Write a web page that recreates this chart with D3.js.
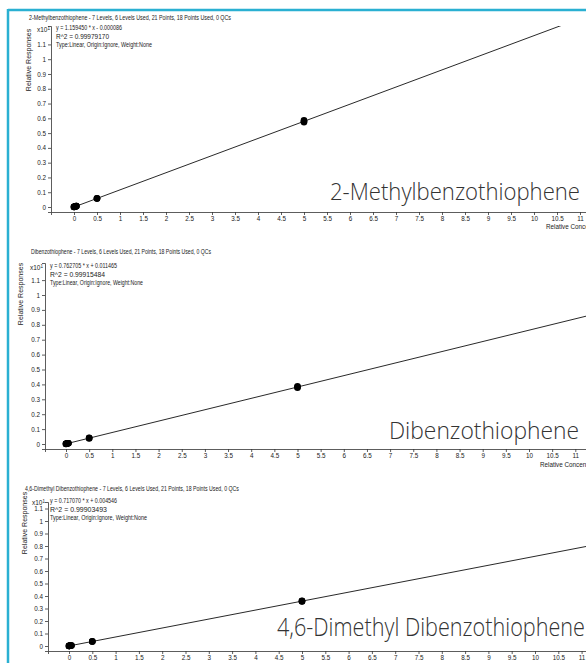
<!DOCTYPE html>
<html><head><meta charset="utf-8">
<script src="https://cdn.jsdelivr.net/npm/d3@7"></script>
<style>
html,body{margin:0;padding:0;background:#fff;}
svg{display:block;}
.small{font-family:"Liberation Sans Narrow","Arial Narrow","Liberation Sans",Arial,sans-serif;fill:#222;}
.big{font-family:"Open Sans","Segoe UI",sans-serif;font-weight:300;fill:#333;}
</style></head>
<body>
<svg id="c" width="586" height="663"></svg>
<script>
// ---- data ----
const compounds = ["2-Methylbenzothiophene", "Dibenzothiophene", "4,6-Dimethyl Dibenzothiophene"];
const headers = [
  "2-Methylbenzothiophene - 7 Levels, 6 Levels Used, 21 Points, 18 Points Used, 0 QCs",
  "Dibenzothiophene - 7 Levels, 6 Levels Used, 21 Points, 18 Points Used, 0 QCs",
  "4,6-Dimethyl Dibenzothiophene - 7 Levels, 6 Levels Used, 21 Points, 18 Points Used, 0 QCs"
];
const equations = ["y = 1.159450 * x - 0.000086", "y = 0.762705 * x + 0.011465", "y = 0.717070 * x + 0.004546"];
const r2Labels = ["R^2 = 0.99979170", "R^2 = 0.99915484", "R^2 = 0.99903493"];
const fitType = "Type:Linear, Origin:Ignore, Weight:None";
const slopes = [1.159450, 0.762705, 0.717070];
const intercepts = [-0.000086, 0.011465, 0.004546];
// concentration of each calibration point (3 replicates per level)
const concentrations = [0,0,0, 0.01,0.01,0.01, 0.02,0.02,0.02, 0.05,0.05,0.05, 0.5,0.5,0.5, 5,5,5];
// relative responses (raw, axis shows x10^1)
const responses1 = [0.0,0.01,0.0, 0.012,0.011,0.013, 0.024,0.022,0.025, 0.058,0.056,0.060, 0.58,0.57,0.59, 5.80,5.74,5.86];
const responses2 = [0.0,0.01,0.02, 0.02,0.018,0.021, 0.027,0.026,0.028, 0.05,0.048,0.052, 0.37,0.40,0.42, 3.78,3.83,3.88];
const responses3 = [0.0,0.005,0.01, 0.012,0.011,0.013, 0.019,0.018,0.02, 0.04,0.038,0.042, 0.36,0.36,0.37, 3.57,3.59,3.61];
const xTicks = d3.range(0, 11.01, 0.5);
const yTicks = d3.range(0, 11.01, 1);

// ---- layout (pixels) ----
const layout = [
  {axisX:51, x0:74, kx:46.0, y0:207, ky:14.78, axisY:212, top:26, titleX:29, titleY:20, titleW:202, eqX:56, eqY:30, eqW:[66,53,96], magX:37, yTitleX:31, yTitleC:60,
   bigX:580, bigY:200, bigW:250, bigSize:24, xTitleY:229},
  {axisX:45, x0:66, kx:46.3, y0:444, ky:14.9, axisY:449, top:263, titleX:31, titleY:254, titleW:180, eqX:50, eqY:268, eqW:[67,55,93], magX:30, yTitleX:23, yTitleC:294,
   bigX:579, bigY:439, bigW:190, bigSize:24, xTitleY:467},
  {axisX:48, x0:69, kx:46.6, y0:646, ky:12.5, axisY:651, top:502, titleX:25, titleY:491, titleW:214, eqX:50, eqY:503, eqW:[67,57,97], magX:32, yTitleX:27, yTitleC:523,
   bigX:585, bigY:636, bigW:308, bigSize:26, xTitleY:668}
];
const responses = [responses1, responses2, responses3];

const svg = d3.select("#c");
svg.append("rect").attr("width",586).attr("height",663).attr("fill","#fff");
// teal frame
svg.append("line").attr("x1",8).attr("x2",586).attr("y1",10).attr("y2",10).attr("stroke","#2ab0d2").attr("stroke-width",2.5);
svg.append("line").attr("x1",8).attr("x2",8).attr("y1",9).attr("y2",663).attr("stroke","#2ab0d2").attr("stroke-width",2.5);

compounds.forEach((name, i) => {
  const L = layout[i];
  const g = svg.append("g");
  const xMin = (L.axisX - L.x0) / L.kx, xMax = (600 - L.x0) / L.kx;
  const x = d3.scaleLinear().domain([xMin, xMax]).range([L.axisX, 600]);
  const yMin = (L.y0 - L.axisY) / L.ky, yMax = (L.y0 - L.top) / L.ky;
  const y = d3.scaleLinear().domain([yMin, yMax]).range([L.axisY, L.top]);

  // header
  g.append("text").attr("class","small").attr("x",L.titleX).attr("y",L.titleY).attr("font-size",6.8)
    .attr("textLength",L.titleW).attr("lengthAdjust","spacingAndGlyphs").text(headers[i]);

  // axes
  const xa = g.append("g").attr("transform",`translate(0,${L.axisY})`)
    .call(d3.axisBottom(x).tickValues(xTicks).tickSize(3).tickPadding(2).tickFormat(d => String(+d.toFixed(1))));
  const ya = g.append("g").attr("transform",`translate(${L.axisX},0)`)
    .call(d3.axisLeft(y).tickValues(yTicks).tickSize(3).tickPadding(2).tickFormat(d => String(+(d/10).toFixed(1))));
  [xa, ya].forEach(a => {
    a.selectAll("text").attr("class","small").attr("font-size",6.3).attr("font-family",null).attr("fill","#222");
    a.selectAll("line,path").attr("stroke","#333").attr("stroke-width",0.8);
  });

  // magnitude label
  const mag = g.append("text").attr("class","small").attr("x",L.magX).attr("y",L.eqY+2).attr("font-size",6.5);
  mag.append("tspan").text("x10");
  mag.append("tspan").attr("dy",-2.5).attr("font-size",4.5).text("1");

  // equation block
  [equations[i], r2Labels[i], fitType].forEach((t, j) => {
    g.append("text").attr("class","small").attr("x",L.eqX).attr("y",L.eqY + j*8.6).attr("font-size",6.6)
      .attr("textLength",L.eqW[j]).attr("lengthAdjust","spacingAndGlyphs").text(t);
  });

  // y title
  g.append("text").attr("class","small").attr("font-size",7)
    .attr("transform",`translate(${L.yTitleX},${L.yTitleC}) rotate(-90)`).attr("text-anchor","middle").attr("fill","#444")
    .text("Relative Responses");
  // x title
  g.append("text").attr("class","small").attr("font-size",6.3).attr("x",L.axisX + 495).attr("y",L.xTitleY)
    .text("Relative Concentration");

  // clip
  const cid = "clip" + i;
  svg.append("clipPath").attr("id",cid).append("rect")
    .attr("x",L.axisX).attr("y",L.top).attr("width",600-L.axisX).attr("height",L.axisY-L.top);

  // regression line
  const line = d3.line().x(d => x(d)).y(d => y(slopes[i]*d + intercepts[i]));
  g.append("path").datum([0, 11.5]).attr("d",line).attr("clip-path",`url(#${cid})`)
    .attr("fill","none").attr("stroke","#111").attr("stroke-width",0.9);

  // points
  g.selectAll("circle.pt").data(concentrations.map((c,k)=>({c, r:responses[i][k]}))).join("circle")
    .attr("class","pt").attr("cx",d=>x(d.c)).attr("cy",d=>y(d.r)).attr("r",3.3).attr("fill","#000");

  // big name label
  g.append("text").attr("class","big").attr("x",L.bigX).attr("y",L.bigY).attr("text-anchor","end")
    .attr("font-size",L.bigSize).attr("textLength",L.bigW).attr("lengthAdjust","spacingAndGlyphs").text(name);
});
</script>
</body></html>
